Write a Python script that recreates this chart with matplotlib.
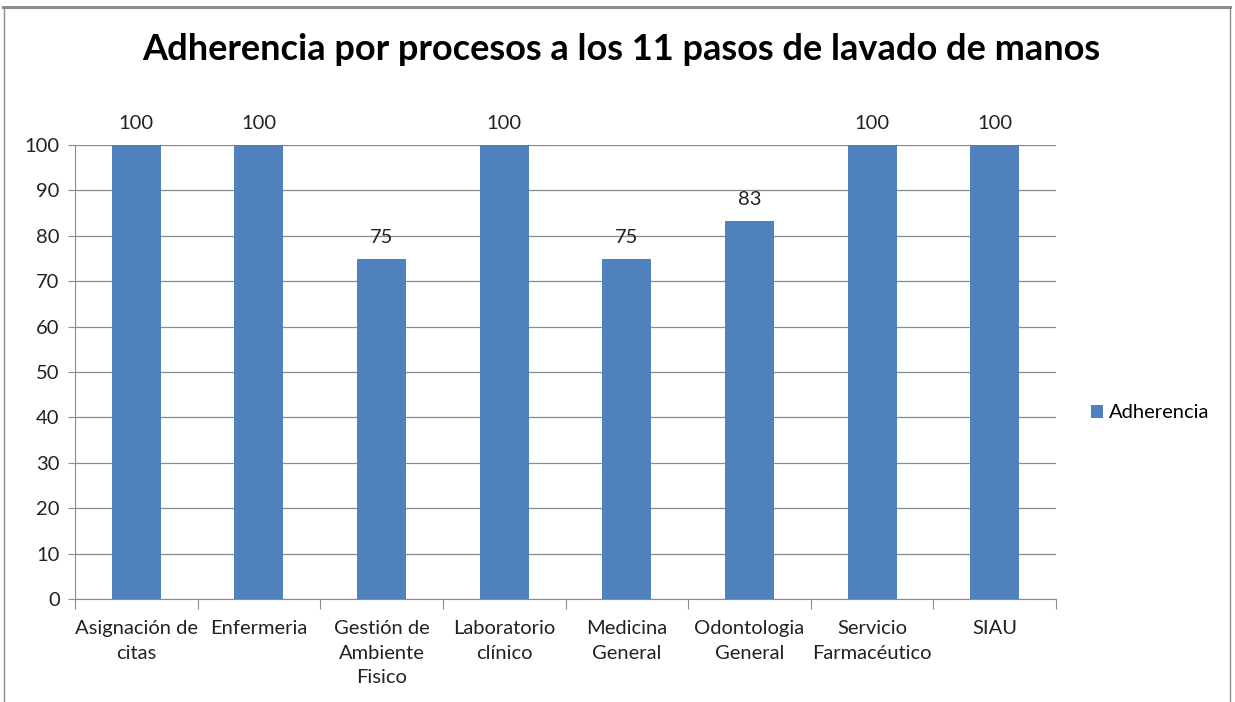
import matplotlib as mpl
mpl.use('Agg')
import matplotlib.pyplot as plt
from matplotlib.lines import Line2D

procesos = ['Asignación de\ncitas', 'Enfermeria', 'Gestión de\nAmbiente\nFisico',
            'Laboratorio\nclínico', 'Medicina\nGeneral', 'Odontologia\nGeneral',
            'Servicio\nFarmacéutico', 'SIAU']
adherencia = [100, 100, 75, 100, 75, 83.3, 100, 100]
etiquetas = ['100', '100', '75', '100', '75', '83', '100', '100']

plt.rcParams['font.family'] = ['Lato', 'DejaVu Sans']
azul = '#4f81bd'
fs = 14.5

fig = plt.figure(figsize=(12.35, 7.02), dpi=100)
ax = fig.add_axes([75/1235, 1 - 599/702, (1056 - 75)/1235, (599 - 145)/702])

x = range(len(procesos))
ax.bar(x, adherencia, width=0.4, color=azul, label='Adherencia', zorder=3)
for xi, v, t in zip(x, adherencia, etiquetas):
    ax.text(xi, v + 2.8, t, ha='center', va='bottom', fontsize=fs, color='#222222')

ax.set_xlim(-0.5, len(procesos) - 0.5)
ax.set_ylim(0, 100)
ax.set_yticks(range(0, 101, 10))
ax.yaxis.grid(True, color='#8c8c8c', linewidth=0.9, zorder=0)
ax.tick_params(axis='y', labelsize=fs, length=5, color='#8c8c8c', labelcolor='#222222', pad=6)

# ticks x entre categorias
ax.set_xticks([i - 0.5 for i in range(len(procesos) + 1)], minor=False)
ax.set_xticklabels([])
ax.tick_params(axis='x', length=7, color='#8c8c8c')
ax.set_xticks(list(x), minor=True)
ax.set_xticklabels(procesos, minor=True, fontsize=fs, color='#222222', linespacing=1.55)
ax.tick_params(axis='x', which='minor', length=0, pad=15)

for s in ['top', 'right']:
    ax.spines[s].set_visible(False)
ax.spines['left'].set_color('#8c8c8c')
ax.spines['bottom'].set_color('#8c8c8c')

fig.text(621/1235, 1 - 50/702, 'Adherencia por procesos a los 11 pasos de lavado de manos',
         ha='center', va='center', fontsize=26, fontweight='bold', color='black')

fig.legend(loc='center left', bbox_to_anchor=(1073/1235, 1 - 413/702), frameon=False,
           fontsize=fs, handlelength=0.6, handleheight=0.6, handletextpad=0.3)

# marco del grafico
fig.add_artist(Line2D([3/1235, 1230/1235], [1 - 7/702, 1 - 7/702], color='#8c8c8c', linewidth=2.2))
fig.add_artist(Line2D([3.5/1235, 3.5/1235], [0, 1 - 7/702], color='#8c8c8c', linewidth=1))
fig.add_artist(Line2D([1229.5/1235, 1229.5/1235], [0, 1 - 7/702], color='#8c8c8c', linewidth=1))

fig.savefig('out.png', dpi=100)
plt.close(fig)
